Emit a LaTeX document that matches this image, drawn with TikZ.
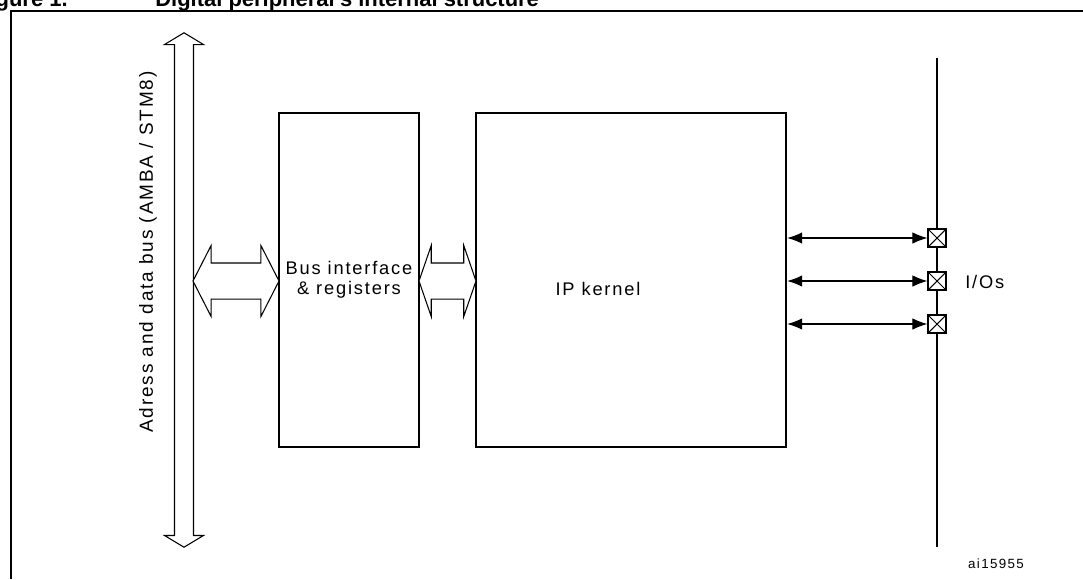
\documentclass[tikz,border=0pt]{standalone}
\usepackage{fontspec}
\setmainfont{Liberation Sans}
\newfontfamily\spacedsans[LetterSpace=10]{Liberation Sans}
\usetikzlibrary{arrows.meta,shapes.arrows}
\tikzset{
  frameline/.style={line width=1.7pt},
  blockbox/.style={
    draw=black,
    line width=1.4pt,
    minimum height=6.68cm,
    inner sep=0pt,
    align=center,
    font=\spacedsans\fontsize{10.4}{11.6}\selectfont
  },
  busarrow/.style={
    double arrow,
    draw=black,
    line width=0.6pt,
    fill=white
  },
  pinbox/.style={
    draw=black,
    line width=0.7pt,
    fill=white,
    minimum size=0.36cm,
    inner sep=0pt
  },
  ioarrow/.style={{Latex[length=3mm,width=2.3mm]}-{Latex[length=3mm,width=2.3mm]},line width=0.6pt},
  plaintext/.style={inner sep=0pt, font=\spacedsans\fontsize{10.4}{12}\selectfont}
}
\begin{document}
\begin{tikzpicture}[x=0.02cm,y=-0.02cm]
\useasboundingbox (0,0) rectangle (1083,579);
\clip (0,0) rectangle (1083,579);
% caption, cut by the page edge
\node[anchor=base east,inner sep=0pt,font=\bfseries\fontsize{12.5}{14}\selectfont] (fignum) at (68,6) {Figure 1.};
\node[anchor=base west,inner sep=0pt,font=\bfseries\fontsize{12.5}{14}\selectfont] (figtitle) at (155,6) {Digital peripheral's internal structure};
% frame
\draw[frameline] (11,579) -- (11,11) -- (1083,11);
% system bus
\node[busarrow,shape border rotate=90,minimum height=10.29cm,inner sep=0.18cm,
  double arrow head extend=0.2cm,double arrow tip angle=118] (bus) at (184,290) {};
\node[plaintext,rotate=90,font=\spacedsans\fontsize{10.8}{12}\selectfont] (buslabel) at (148,252) {Adress and data bus (AMBA / STM8)};
% blocks
\node[blockbox,minimum width=2.8cm] (regs) at (349,280) {Bus interface\\\& registers};
\node[blockbox,minimum width=6.2cm] (ip) at (631,280) {};
\node[plaintext] (iplabel) at (598,289) {IP kernel};
% hollow links
\node[busarrow,minimum height=1.72cm,inner sep=0.35cm,
  double arrow head extend=0.35cm,double arrow tip angle=126] (link1) at (236,281) {};
\node[busarrow,minimum height=1.14cm,inner sep=0.35cm,
  double arrow head extend=0.35cm,double arrow tip angle=142] (link2) at (447.5,281) {};
% pins
\draw[line width=0.6pt] (937,58) coordinate (iotop) -- (937,547) coordinate (iobottom);
\foreach \n/\y in {1/238,2/281,3/324}{
  \node[pinbox] (pin\n) at (937,\y) {};
  \draw[line width=0.6pt] (pin\n.north west) -- (pin\n.south east)
    (pin\n.south west) -- (pin\n.north east);
  \draw[ioarrow] (ip.east |- pin\n) -- (pin\n.west);
}
\node[plaintext,anchor=west] (iolabel) at (965,282) {I/Os};
\node[plaintext,font=\spacedsans\fontsize{7.6}{9}\selectfont] (figid) at (996,564) {ai15955};
\end{tikzpicture}
\end{document}
